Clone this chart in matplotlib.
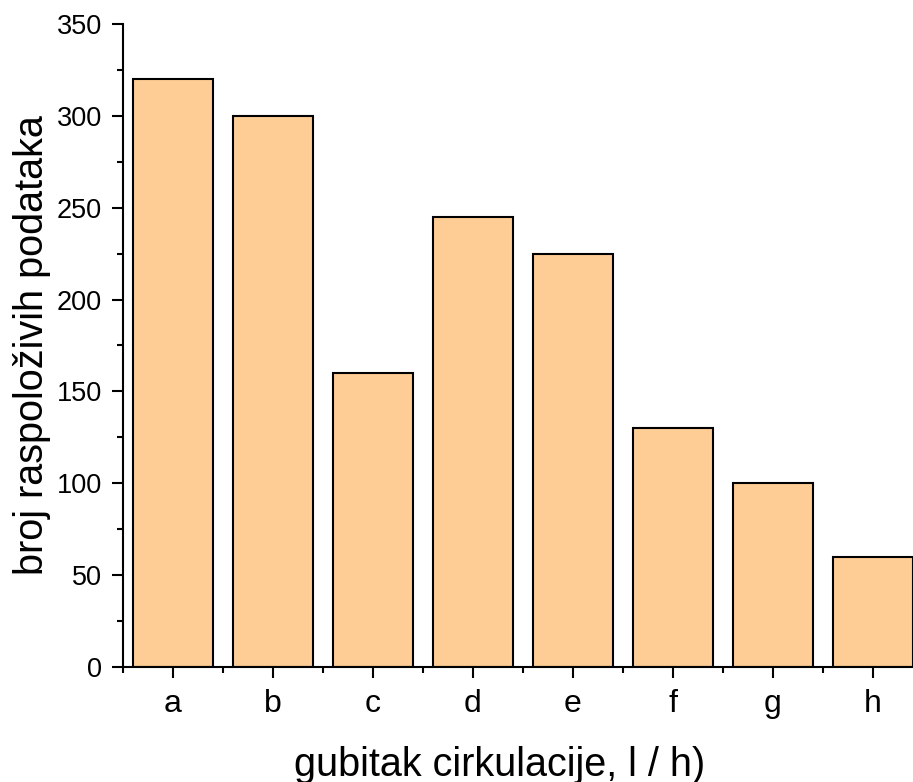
import matplotlib.pyplot as plt
from matplotlib.ticker import MultipleLocator, FixedLocator

plt.rcParams['font.family'] = ['Liberation Sans', 'DejaVu Sans']

# Podaci
kategorije = ["a", "b", "c", "d", "e", "f", "g", "h"]
vrijednosti = [320, 300, 160, 245, 225, 130, 100, 60]

fig = plt.figure(figsize=(9.13, 7.82), dpi=100)
ax = fig.add_axes([0.1347, 0.1471, 0.8653, 0.8223])

x = range(len(kategorije))
ax.bar(x, vrijednosti, width=0.8, color="#FECD95", edgecolor="black", linewidth=1.5)

ax.set_xlim(-0.5, 7.4)
ax.set_ylim(0, 350)
ax.set_xticks(list(x))
ax.set_xticklabels(kategorije)
ax.xaxis.set_minor_locator(FixedLocator([i - 0.5 for i in range(len(kategorije) + 1)]))
ax.yaxis.set_major_locator(MultipleLocator(50))
ax.yaxis.set_minor_locator(MultipleLocator(25))

for s in ["top", "right"]:
    ax.spines[s].set_visible(False)
for s in ["left", "bottom"]:
    ax.spines[s].set_linewidth(1.5)

ax.tick_params(which="major", length=8, width=1.5)
ax.tick_params(which="minor", length=4, width=1.5)
ax.tick_params(axis="y", which="major", labelsize=19.5, pad=7)
ax.tick_params(axis="x", which="major", labelsize=23, pad=8)

ax.set_xlabel("gubitak cirkulacije, l / h)", fontsize=28.5, labelpad=19)
ax.xaxis.label.set_x(0.477)
ax.set_ylabel("broj raspoloživih podataka", fontsize=28.5, labelpad=4)

fig.savefig("out.png", dpi=100)
